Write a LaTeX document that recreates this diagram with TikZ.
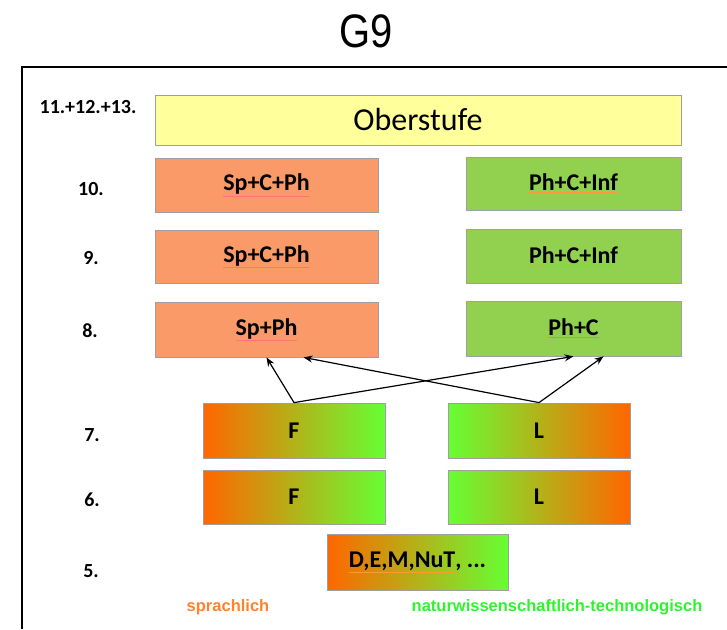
\documentclass[tikz,border=0pt]{standalone}
\usepackage{fontspec}
\setmainfont{Carlito}
\newfontfamily\arialfont{Liberation Sans}
\usetikzlibrary{arrows.meta,calc,shadows}
\definecolor{salmon}{RGB}{250,154,104}
\definecolor{lgreen}{RGB}{146,208,80}
\definecolor{lyellow}{RGB}{255,255,155}
\definecolor{gorange}{RGB}{255,102,0}
\definecolor{ggreen}{RGB}{102,255,51}
\definecolor{labor}{RGB}{255,130,45}
\definecolor{labgr}{RGB}{45,245,45}
\newcommand{\spellred}[1]{{\color{red!55}\underline{\color{black}#1}}}
\newcommand{\spellor}[1]{{\color{orange!80}\underline{\color{black}#1}}}
\begin{document}
\begin{tikzpicture}[x=1pt,y=-1pt,
  box/.style={draw=gray!75, line width=0.8pt, minimum width=223pt, minimum height=54pt,
    inner sep=0pt, font=\fontsize{24}{24}\selectfont\bfseries,
    drop shadow={shadow xshift=1.2pt, shadow yshift=-1.2pt, opacity=0.25}},
  sbox/.style={box, fill=salmon},
  gbox/.style={box, fill=lgreen, minimum width=215pt},
  ogbox/.style={box, minimum width=182pt, minimum height=55pt, left color=gorange, right color=ggreen},
  gobox/.style={box, minimum width=182pt, minimum height=55pt, left color=ggreen, right color=gorange},
  rowlbl/.style={font=\fontsize{20}{20}\selectfont\bfseries, inner sep=0pt},
  arr/.style={-{Stealth[length=9pt,width=7pt]}, line width=1.2pt, black},
  catlbl/.style={font=\arialfont\fontsize{16.5}{16.5}\selectfont\bfseries, inner sep=0pt}]
\useasboundingbox (0,0) rectangle (727,629);
\fill[white] (0,0) rectangle (727,629);
% title
\node[font=\arialfont\fontsize{47}{47}\selectfont, xscale=0.85, inner sep=0pt] (title) at (366,31) {G9};
% frame
\coordinate (fbl) at (22,629);
\coordinate (ftl) at (22,67);
\coordinate (ftr) at (727,67);
\draw[line width=1.6pt] (fbl) -- (ftl) -- (ftr);
% row labels
\node[rowlbl] (r11) at (88,107) {11.+12.+13.};
\node[rowlbl] (r10) at (91,189) {10.};
\node[rowlbl] (r9) at (91,258) {9.};
\node[rowlbl] (r8) at (90,331) {8.};
\node[rowlbl] (r7) at (92,435) {7.};
\node[rowlbl] (r6) at (92,500) {6.};
\node[rowlbl] (r5) at (91,571) {5.};
% boxes
\node[box, fill=lyellow, minimum width=526pt, minimum height=50pt,
  font=\fontsize{32}{32}\selectfont] (ober) at (418,120) {Oberstufe};
\node[sbox] (sp10) at (266.5,185) {\spellred{Sp+C+Ph}};
\node[gbox, minimum height=53pt] (ph10) at (573.5,183.5) {\spellor{Ph+C+Inf}};
\node[sbox, minimum height=53pt] (sp9) at (266.5,256.5) {\spellred{Sp+C+Ph}};
\node[gbox] (ph9) at (573.5,256) {\spellor{Ph+C+Inf}};
\node[sbox, minimum height=55pt] (sp8) at (266.5,329.5) {\spellred{Sp+Ph}};
\node[gbox, minimum height=55pt] (ph8) at (573.5,328.5) {\spellred{Ph+C}};
\node[ogbox] (f7) at (294,430.5) {F};
\node[gobox] (l7) at (539,430.5) {L};
\node[ogbox, minimum height=54pt] (f6) at (294,497) {F};
\node[gobox, minimum height=54pt] (l6) at (539,497) {L};
\node[ogbox, minimum width=181pt, minimum height=56pt] (dem) at (417.5,562) {\spellor{D,E,M,NuT}, ...};
% arrows
\draw[arr] (f7.north) -- (sp8.south);
\draw[arr] (f7.north) -- (ph8.south);
\draw[arr] (l7.north) -- ($(sp8.south)+(37,0)$);
\draw[arr] (l7.north) -- ($(ph8.south)+(30,0)$);
% category labels
\node[catlbl, text=labor] (spr) at (228,607) {sprachlich};
\node[catlbl, text=labgr] (nat) at (557,607) {naturwissenschaftlich-technologisch};
\end{tikzpicture}
\end{document}
